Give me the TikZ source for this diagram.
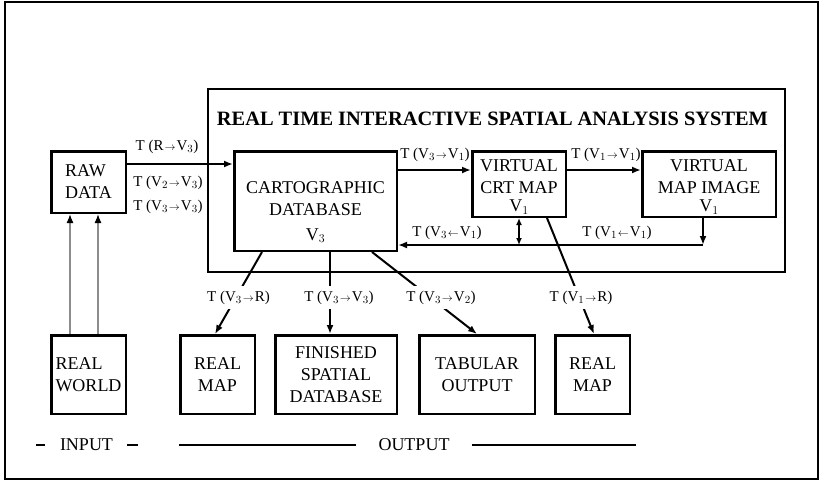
\documentclass[tikz,border=0pt]{standalone}
\usepackage{fontspec}
\setmainfont{Liberation Serif}
\usetikzlibrary{arrows.meta, positioning, calc}
\newcommand{\trto}{\kern1pt$\scriptstyle\rightarrow$\kern1pt}
\newcommand{\trfrom}{\kern1pt$\scriptstyle\leftarrow$\kern1pt}
\tikzset{
  sysbox/.style={rectangle, draw, line width=2.5pt, align=center, inner sep=2pt,
                 font=\fontsize{18}{22}\selectfont},
  boxtxt/.style={align=center, inner sep=0pt, font=\fontsize{18}{22}\selectfont},
  tlabel/.style={font=\fontsize{15}{18}\selectfont, inner sep=1pt, anchor=base},
  cutlabel/.style={tlabel, fill=white, inner ysep=5pt, inner xsep=2pt},
  arrow/.style={-{Latex[length=9pt,width=7pt]}, line width=2pt},
  darrow/.style={{Latex[length=7pt,width=6pt]}-{Latex[length=7pt,width=6pt]}, line width=1.6pt},
  feed/.style={-{Latex[length=9pt,width=7pt,color=black]}, line width=1.3pt, color=black!45},
  legline/.style={line width=1.8pt},
}

\begin{document}
\begin{tikzpicture}[x=1pt, y=-1pt]
  \useasboundingbox (0,0) rectangle (821,480);
  \draw[line width=1.2pt] (5,2) rectangle (818,479);

  % system frame
  \node[sysbox, minimum width=577pt, minimum height=183pt] (sys) at (496.5,180.5) {};
  \node[font=\fontsize{20.4}{24}\selectfont\bfseries, inner sep=0pt] (title) at (492.5,119)
        {REAL TIME INTERACTIVE SPATIAL ANALYSIS SYSTEM};

  % boxes
  \node[sysbox, align=left, minimum width=74.5pt, minimum height=61.5pt] (raw) at (88.5,182) {RAW\\DATA};
  \node[sysbox, minimum width=162.5pt, minimum height=99.5pt] (cdb) at (315.5,201) {};
  \node[boxtxt] (cdbtxt) at ([yshift=-11pt]cdb.center) {CARTOGRAPHIC\\DATABASE\\[3pt]V$_3$};
  \node[sysbox, minimum width=93.5pt, minimum height=65.5pt] (crt) at (519,184) {};
  \node[boxtxt] (crttxt) at ([yshift=-3pt]crt.center) {VIRTUAL\\CRT MAP\\[-4pt]V$_1$};
  \node[sysbox, minimum width=133.5pt, minimum height=65.5pt] (img) at (709,184) {};
  \node[boxtxt] (imgtxt) at ([yshift=-3pt]img.center) {VIRTUAL\\MAP IMAGE\\[-4pt]V$_1$};

  \node[sysbox, align=left, minimum width=74.5pt, minimum height=78.5pt] (world) at (88.5,374.5) {REAL\\WORLD};
  \node[sysbox, minimum width=74.5pt, minimum height=78.5pt] (rmapa) at (217.5,374.5) {REAL\\MAP};
  \node[sysbox, minimum width=121.5pt, minimum height=78.5pt] (fin) at (336,374.5) {FINISHED\\SPATIAL\\DATABASE};
  \node[sysbox, minimum width=115.5pt, minimum height=78.5pt] (tab) at (477,374.5) {TABULAR\\OUTPUT};
  \node[sysbox, minimum width=74.5pt, minimum height=78.5pt] (rmapb) at (592.5,374.5) {REAL\\MAP};

  % input side
  \draw[feed] ([xshift=-18.5pt]world.north) -- ([xshift=-18.5pt]raw.south);
  \draw[feed] ([xshift=9.5pt]world.north) -- ([xshift=9.5pt]raw.south);
  \draw[arrow] ([yshift=18pt]raw.east) -- ([yshift=18pt]raw.east -| cdb.west);
  \node[tlabel] (lrv) at (167,150.5) {T (R\trto V$_3$)};
  \node[tlabel] (lvv) at (168,186) {T (V$_2$\trto V$_3$)};
  \node[tlabel] (lvw) at (168,210) {T (V$_3$\trto V$_3$)};

  % inside the system
  \draw[arrow] ([yshift=14pt]crt.west -| cdb.east) -- ([yshift=14pt]crt.west);
  \draw[arrow] ([yshift=14pt]crt.east) -- ([yshift=14pt]img.west);
  \node[tlabel] (lcc) at (435,158) {T (V$_3$\trto V$_1$)};
  \node[tlabel] (lci) at (606,158) {T (V$_1$\trto V$_1$)};
  \path ([xshift=-6pt]img.south) ++(0,27) coordinate (ret);
  \draw[arrow] ([xshift=-6pt]img.south) -- (ret);
  \draw[arrow] (ret) -- (ret -| cdb.east);
  \draw[darrow] (crt.south) -- (crt.south |- ret);
  \node[tlabel] (lbc) at (447,236) {T (V$_3$\trfrom V$_1$)};
  \node[tlabel] (lbi) at (617,236) {T (V$_1$\trfrom V$_1$)};

  % outputs
  \draw[arrow] ([xshift=-53.5pt]cdb.south) -- ([xshift=-2.5pt]rmapa.north);
  \draw[arrow] ([xshift=14.5pt]cdb.south) -- ([xshift=14.5pt]cdb.south |- fin.north);
  \draw[arrow] ([xshift=56.5pt]cdb.south) -- (tab.north);
  \draw[arrow] ([xshift=28pt]crt.south) -- ([xshift=1.5pt]rmapb.north);
  \node[cutlabel] (lor) at (238.5,301) {T (V$_3$\trto R)};
  \node[cutlabel] (lof) at (339,301) {T (V$_3$\trto V$_3$)};
  \node[cutlabel] (lot) at (441,301) {T (V$_3$\trto V$_2$)};
  \node[cutlabel] (lom) at (581,301) {T (V$_1$\trto R)};

  % legend
  \node[boxtxt] (inp) at (86.5,445) {INPUT};
  \node[boxtxt] (outp) at (414,445) {OUTPUT};
  \draw[legline] ([xshift=-15pt]inp.west) -- ([xshift=-24pt]inp.west);
  \draw[legline] ([xshift=14pt]inp.east) -- ([xshift=25pt]inp.east);
  \draw[legline] ([xshift=-22pt]outp.west) -- ([xshift=-199pt]outp.west);
  \draw[legline] ([xshift=22pt]outp.east) -- ([xshift=186pt]outp.east);
\end{tikzpicture}
\end{document}
